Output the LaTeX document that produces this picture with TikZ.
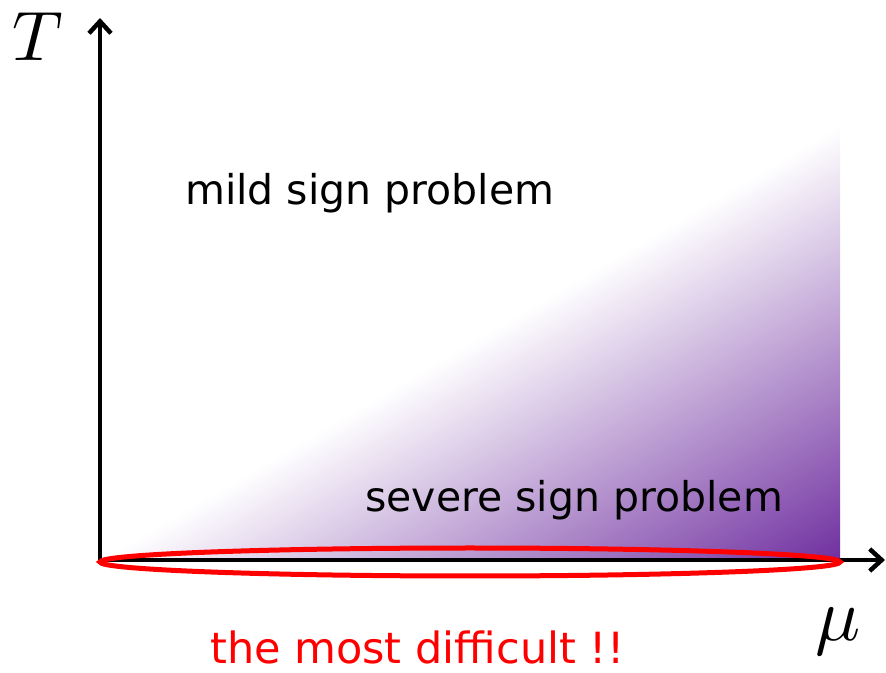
\documentclass[tikz,border=0pt]{standalone}
\usepackage{fontspec}
\newfontfamily\comic{DejaVu Sans}
\usetikzlibrary{arrows.meta}
\definecolor{purp}{HTML}{7030A0}
\begin{document}
\begin{tikzpicture}[x=1pt,y=1pt,
  axis/.style={line width=4.5pt, line join=miter, {Straight Barb[length=12pt,width=22pt]}-{Straight Barb[length=12pt,width=22pt]}},
  lbl/.style={font=\comic\fontsize{41}{48}\selectfont, anchor=base west, inner sep=0pt},
  ring/.style={draw=red, line width=5pt}]
\useasboundingbox (0,0) rectangle (886,672);
\coordinate (O) at (100,112);
\coordinate (C) at (840,112);
\coordinate (H) at (840,547);
\coordinate (Ytip) at (100,654);
\coordinate (Xtip) at (885,112);
\begin{scope}
  \clip (O) -- (C) -- (H) -- cycle;
  \begin{scope}[transform canvas={rotate around={30.45:(100,112)}}]
    \shade[top color=white, bottom color=purp] (80,-263) rectangle (980,112);
  \end{scope}
\end{scope}
\draw[axis] (Ytip) -- (O) -- (Xtip);
\draw[ring] (470,110) ellipse [x radius=370, y radius=14];
\node[lbl] (mild) at (185,467) {mild sign problem};
\node[lbl] (severe) at (365,160) {severe sign problem};
\node[lbl, text=red, font=\comic\fontsize{43}{50}\selectfont] (most) at (210,9) {the most difficult !!};
\node[scale=7] (T) at (38,635) {$T$};
\node[scale=7.5] (mu) at (838,40) {$\mu$};
\end{tikzpicture}
\end{document}
